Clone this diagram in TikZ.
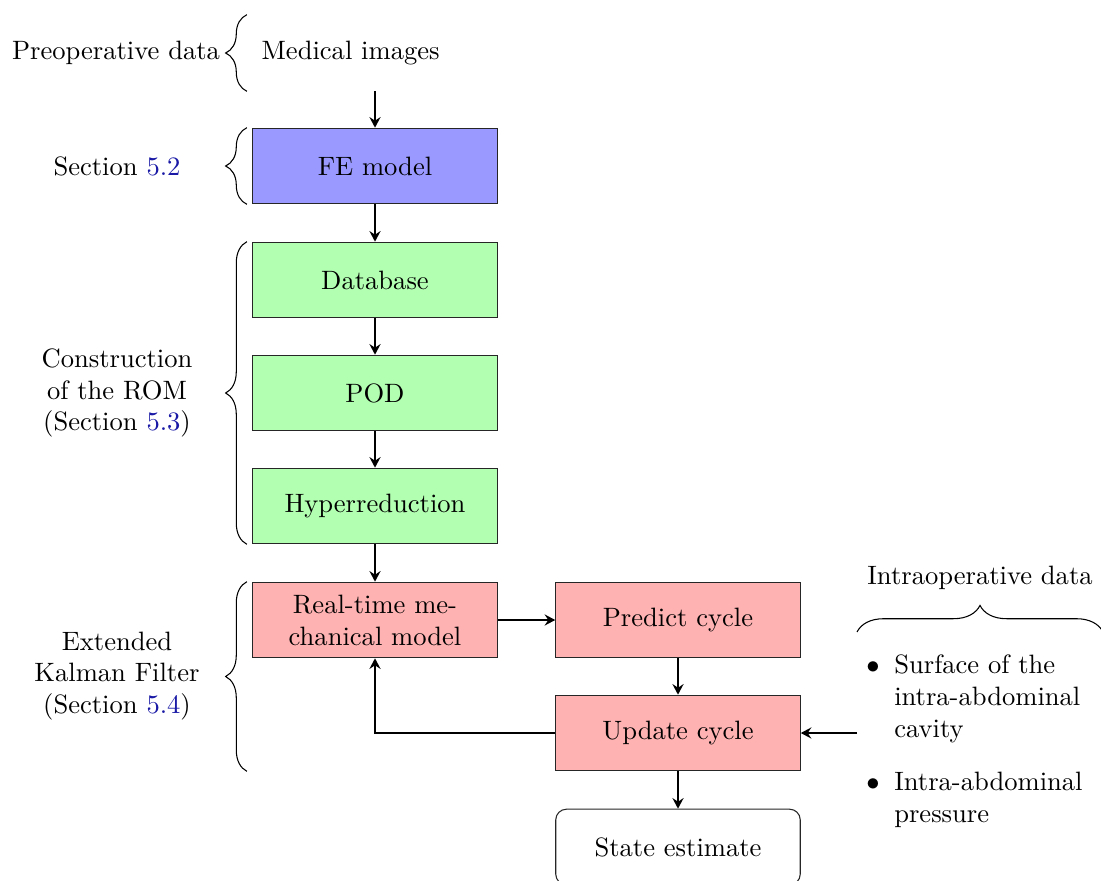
\documentclass[tikz,border=0pt]{standalone}
\usetikzlibrary{decorations.pathreplacing,arrows.meta}
\definecolor{linkblue}{rgb}{0.1,0.1,0.65}
\begin{document}
\begin{tikzpicture}[x=0.0132275cm,y=-0.0132275cm,
  stepbox/.style={rectangle, text width=3cm, minimum height=1cm, align=center, draw=black!85},
  febox/.style={stepbox, fill=blue!40},
  rombox/.style={stepbox, fill=green!30},
  ekfbox/.style={stepbox, fill=red!30},
  arr/.style={-{Stealth[length=4pt,width=4.2pt,inset=1.4pt]}, thick},
  vbrace/.style={decorate, decoration={brace, amplitude=8pt}},
  hbrace/.style={decorate, decoration={brace, amplitude=10pt}},
  lbl/.style={align=center}]
\useasboundingbox (0,0) rectangle (1101,881);
% main column
\node[stepbox, draw=none, align=left] (med) at (375,53) {Medical images};
\node[febox] (fe) at (375,166) {FE model};
\node[rombox] (db) at (375,280) {Database};
\node[rombox] (pod) at (375,393) {POD};
\node[rombox] (hyp) at (375,506) {Hyperreduction};
\node[ekfbox] (rt) at (375,620) {Real-time mechanical model};
\node[ekfbox] (pred) at (678,620) {Predict cycle};
\node[ekfbox] (upd) at (678,733) {Update cycle};
\node[stepbox, rounded corners, fill=white] (state) at (678,847) {State estimate};
% intraoperative list
\node[anchor=west] (list) at (857,742) {\begin{tabular}{@{}l@{\hspace{5.5pt}}l@{}}
$\bullet$ & Surface of the\\
 & intra-abdominal\\
 & cavity\\[8pt]
$\bullet$ & Intra-abdominal\\
 & pressure
\end{tabular}};
\node[lbl] (intra) at (980,578) {Intraoperative data};
% connectors
\draw[arr] (med) -- (fe);
\draw[arr] (fe) -- (db);
\draw[arr] (db) -- (pod);
\draw[arr] (pod) -- (hyp);
\draw[arr] (hyp) -- (rt);
\draw[arr] (rt) -- (pred);
\draw[arr] (pred) -- (upd);
\draw[arr] (upd) -- (state);
\draw[arr] (upd.west) -| (rt.south);
\draw[arr] (list.west |- upd.east) -- (upd.east);
% braces
\draw[vbrace] ([xshift=-2pt]med.south west) -- ([xshift=-2pt]med.north west);
\draw[vbrace] ([xshift=-2pt]fe.south west) -- ([xshift=-2pt]fe.north west);
\draw[vbrace] ([xshift=-2pt]hyp.south west) -- ([xshift=-2pt]db.north west);
\draw[vbrace] ([xshift=-2pt]rt.west |- upd.south) -- ([xshift=-2pt]rt.north west);
\draw[hbrace] (857,632) -- (1103,632);
% labels
\node[lbl] (lpre) at (116,53) {Preoperative data};
\node[lbl] (lfe) at (117,166) {Section \textcolor{linkblue}{5.2}};
\node[lbl] (lrom) at (117,393) {Construction\\of the ROM\\(Section \textcolor{linkblue}{5.3})};
\node[lbl] (lekf) at (117,676) {Extended\\Kalman Filter\\(Section \textcolor{linkblue}{5.4})};
\end{tikzpicture}
\end{document}
